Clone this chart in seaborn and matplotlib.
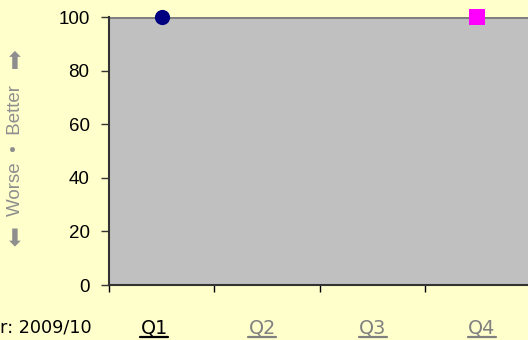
import matplotlib
matplotlib.use("Agg")
import matplotlib.pyplot as plt
from matplotlib.lines import Line2D
import seaborn as sns
import pandas as pd

# Quarter categories and the two plotted series
quarters = ["Q1", "Q2", "Q3", "Q4"]
actual_quarters = ["Q1"]
actual_values = [100]
target_quarters = ["Q4"]
target_values = [100]
ceiling_value = 100
y_ticks = [0, 20, 40, 60, 80, 100]
year_label = "Year: 2009/10"
selected_quarter = "Q1"

sns.set_theme(style="white")
plt.rcParams["font.family"] = ["Liberation Sans", "DejaVu Sans"]

W, H = 528, 340
fig = plt.figure(figsize=(W / 100, H / 100), dpi=100, facecolor="#FFFFCC")
ax = fig.add_axes([109 / W, (H - 285) / H, (530 - 109) / W, (285 - 17) / H])
ax.set_facecolor("#C0C0C0")

pos = {q: i for i, q in enumerate(quarters)}
df_actual = pd.DataFrame({"x": [pos[q] for q in actual_quarters], "y": actual_values})
df_target = pd.DataFrame({"x": [pos[q] for q in target_quarters], "y": target_values})

ax.axhline(ceiling_value, color="#808080", lw=2.2, zorder=2)
sns.scatterplot(data=df_actual, x="x", y="y", ax=ax, marker="o", s=120,
                color="#000080", edgecolor="#000080", linewidth=0, zorder=5, clip_on=False)
sns.scatterplot(data=df_target, x="x", y="y", ax=ax, marker="s", s=120,
                color="#FF00FF", edgecolor="#FF00FF", linewidth=0, zorder=5, clip_on=False)

ax.set_xlim(-0.5, len(quarters) - 0.5)
ax.set_ylim(0, 100)
ax.set_yticks(y_ticks)
ax.set_yticklabels([str(v) for v in y_ticks])
ax.set_xticks([i - 0.5 for i in range(len(quarters) + 1)])
ax.set_xticklabels([])
ax.set_xlabel("")
ax.set_ylabel("")
ax.tick_params(axis="y", length=6, width=1, color="#333333", direction="out",
               labelsize=13.5, labelcolor="black", pad=8, left=True)
ax.tick_params(axis="x", length=5, width=1, color="black", direction="out", bottom=True)

for side in ["top", "right"]:
    ax.spines[side].set_visible(False)
for side in ["left", "bottom"]:
    ax.spines[side].set_color("#333333")
    ax.spines[side].set_linewidth(1.5)

# Vertical direction hint on the left: arrows and words
hint_col = "#8E8E8E"
hx = 16 / W
fig.text(hx, 1 - 151 / H, "Worse  \u2022  Better", rotation=90, ha="center", va="center",
         color=hint_col, fontsize=13.5)
fig.text(15 / W, 1 - 239 / H, "\u2b07", ha="center", va="center",
         color=hint_col, fontsize=17, family="DejaVu Sans")
fig.text(15 / W, 1 - 62 / H, "\u2b06", ha="center", va="center",
         color=hint_col, fontsize=17, family="DejaVu Sans")

# Year label and quarter links along the bottom
ty = 1 - 333 / H
fig.text(92 / W, ty, year_label, ha="right", va="baseline", fontsize=12.7,
         color="black", family="DejaVu Sans")
q_centers = [154, 262, 373, 482]
q_texts = []
for q, cx in zip(quarters, q_centers):
    col = "black" if q == selected_quarter else "#808080"
    t = fig.text(cx / W, ty, q, ha="center", va="baseline", fontsize=13.8, color=col,
                 family="DejaVu Sans")
    q_texts.append((t, col))

fig.canvas.draw()
renderer = fig.canvas.get_renderer()
for t, col in q_texts:
    bb = t.get_window_extent(renderer)
    uy = 1 - 336.5 / H
    fig.add_artist(Line2D([bb.x0 / W, bb.x1 / W], [uy, uy], color=col, lw=1.6,
                          transform=fig.transFigure))

fig.savefig("out.png", dpi=100, facecolor=fig.get_facecolor())
